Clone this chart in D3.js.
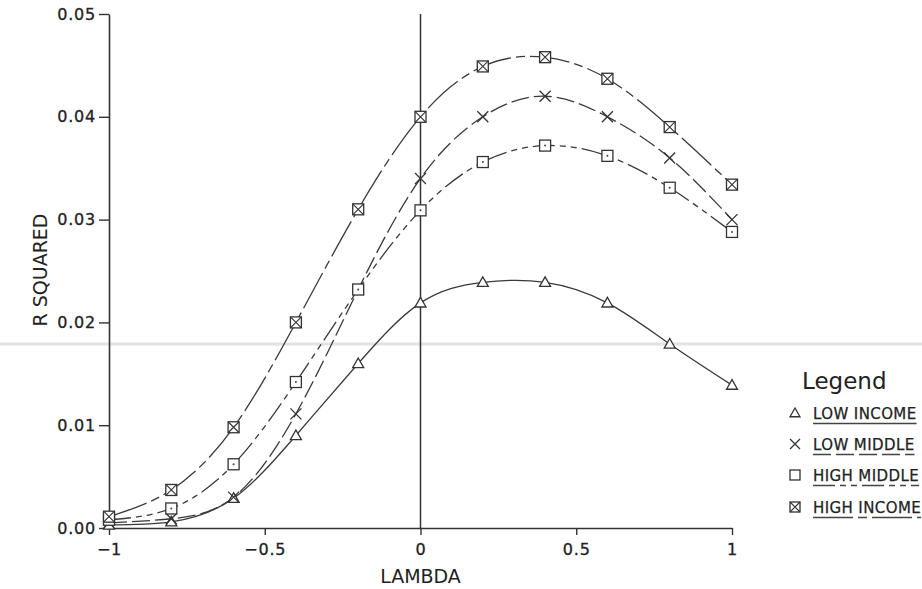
<!DOCTYPE html>
<html>
<head>
<meta charset="utf-8"/>
<script src="https://d3js.org/d3.v7.min.js"></script>
<style>
  body { margin: 0; background: #fff; }
  svg text { font-family: "DejaVu Sans", sans-serif; fill: #222; }
</style>
</head>
<body>
<script>
// lambda values on the x axis
var lambda = [-1, -0.8, -0.6, -0.4, -0.2, 0, 0.2, 0.4, 0.6, 0.8, 1];

// R squared, one array per income group
var lowIncome  = [0.0003, 0.0006, 0.0029, 0.0090, 0.0160, 0.0219, 0.0239, 0.0239, 0.0219, 0.0179, 0.0139];
var lowMiddle  = [0.0005, 0.0009, 0.0030, 0.0111, 0.0232, 0.0340, 0.0400, 0.0420, 0.0400, 0.0360, 0.0300];
var highMiddle = [0.0008, 0.0019, 0.0062, 0.0142, 0.0232, 0.0309, 0.0356, 0.0372, 0.0362, 0.0331, 0.0288];
var highIncome = [0.0011, 0.0037, 0.0098, 0.0200, 0.0310, 0.0400, 0.0449, 0.0458, 0.0437, 0.0390, 0.0334];

var seriesNames = ["LOW INCOME", "LOW MIDDLE", "HIGH MIDDLE", "HIGH INCOME"];
var yTicks = [0, 0.01, 0.02, 0.03, 0.04, 0.05];
var xTicks = [-1, -0.5, 0, 0.5, 1];

var width = 922, height = 589;

var series = [
  {name: seriesNames[0], values: lowIncome,  marker: "triangle", dash: null},
  {name: seriesNames[1], values: lowMiddle,  marker: "cross",    dash: "18,5"},
  {name: seriesNames[2], values: highMiddle, marker: "square",   dash: "22,5,6,5,6,5"},
  {name: seriesNames[3], values: highIncome, marker: "boxcross", dash: "40,5,9,5"}
];

var svg = d3.select("body").append("svg")
  .attr("width", width).attr("height", height);

var x = d3.scaleLinear().domain([-1, 1]).range([109, 732]);
var y = d3.scaleLinear().domain([0, 0.05]).range([528, 14]);

// faint scan line across the page
svg.append("line")
  .attr("x1", 0).attr("x2", width)
  .attr("y1", 344).attr("y2", 344)
  .attr("stroke", "#e2e2e2").attr("stroke-width", 3);

// y axis
var yAxis = svg.append("g")
  .attr("transform", "translate(" + x(-1) + ",0)")
  .call(d3.axisLeft(y).tickValues(yTicks).tickFormat(d3.format(".2f")).tickSize(10).tickSizeOuter(0).tickPadding(3));

// x axis
var xAxis = svg.append("g")
  .attr("transform", "translate(0," + y(0) + ")")
  .call(d3.axisBottom(x).tickValues(xTicks).tickFormat(d3.format("~g")).tickSize(7).tickSizeOuter(0).tickPadding(9));

[yAxis, xAxis].forEach(function(a) {
  a.select(".domain").attr("stroke", "#333").attr("stroke-width", 1.6);
  a.selectAll(".tick line").attr("stroke", "#333").attr("stroke-width", 1.4);
  a.selectAll(".tick text").attr("font-size", 16).attr("fill", "#222")
    .attr("letter-spacing", 0.8)
    .attr("stroke", "#222").attr("stroke-width", 0.3)
    .attr("font-family", "DejaVu Sans, sans-serif");
});

// vertical line at lambda = 0
svg.append("line")
  .attr("x1", x(0)).attr("x2", x(0))
  .attr("y1", y(0.05)).attr("y2", y(0))
  .attr("stroke", "#333").attr("stroke-width", 1.5);

// axis titles
svg.append("text")
  .attr("x", x(0)).attr("y", 583)
  .attr("text-anchor", "middle").attr("font-size", 19)
  .text("LAMBDA");

svg.append("text")
  .attr("transform", "translate(47,270) rotate(-90)")
  .attr("text-anchor", "middle").attr("font-size", 19)
  .text("R SQUARED");

// curves
var line = d3.line()
  .x(function(d, i) { return x(lambda[i]); })
  .y(function(d) { return y(d); })
  .curve(d3.curveNatural);

svg.selectAll(".curve")
  .data(series)
  .enter()
  .append("path")
  .attr("class", "curve")
  .attr("d", function(s) { return line(s.values); })
  .attr("fill", "none")
  .attr("stroke", "#3a3a3a")
  .attr("stroke-width", 1.3)
  .attr("stroke-dasharray", function(s) { return s.dash; });

// marker drawing
function drawMarker(g, type, cx, cy, r, dot) {
  var st = {stroke: "#333", "stroke-width": 1.3};
  if (type === "triangle") {
    g.append("path")
      .attr("d", "M" + cx + "," + (cy - r) + "L" + (cx + r) + "," + (cy + r * 0.75) + "L" + (cx - r) + "," + (cy + r * 0.75) + "Z")
      .attr("fill", "#fff").attr("stroke", st.stroke).attr("stroke-width", st["stroke-width"]);
  } else if (type === "cross") {
    g.append("path")
      .attr("d", "M" + (cx - r) + "," + (cy - r) + "L" + (cx + r) + "," + (cy + r) + "M" + (cx + r) + "," + (cy - r) + "L" + (cx - r) + "," + (cy + r))
      .attr("fill", "none").attr("stroke", st.stroke).attr("stroke-width", st["stroke-width"]);
  } else {
    g.append("rect")
      .attr("x", cx - r).attr("y", cy - r).attr("width", 2 * r).attr("height", 2 * r)
      .attr("fill", "#fff").attr("stroke", st.stroke).attr("stroke-width", st["stroke-width"]);
    if (type === "boxcross") {
      g.append("path")
        .attr("d", "M" + (cx - r) + "," + (cy - r) + "L" + (cx + r) + "," + (cy + r) + "M" + (cx + r) + "," + (cy - r) + "L" + (cx - r) + "," + (cy + r))
        .attr("fill", "none").attr("stroke", st.stroke).attr("stroke-width", 1.1);
    } else if (dot) {
      g.append("circle").attr("cx", cx).attr("cy", cy).attr("r", 1).attr("fill", "#444");
    }
  }
}

var markers = svg.append("g");
series.forEach(function(s) {
  s.values.forEach(function(v, i) {
    drawMarker(markers, s.marker, x(lambda[i]), y(v), 5.5, true);
  });
});

// legend
var legend = svg.append("g");
legend.append("text")
  .attr("x", 802).attr("y", 389)
  .attr("font-size", 23)
  .text("Legend");

var rowY = [419, 450, 481, 513];
series.forEach(function(s, i) {
  drawMarker(legend, s.marker, 795, rowY[i] - 6, 5, false);
  var t = legend.append("text")
    .attr("x", 813).attr("y", rowY[i])
    .attr("font-size", 15)
    .attr("letter-spacing", 0.4)
    .attr("stroke", "#222").attr("stroke-width", 0.25)
    .text(s.name);
  var w = t.node().getComputedTextLength();
  legend.append("line")
    .attr("x1", 813).attr("x2", 813 + w)
    .attr("y1", rowY[i] + 4.5).attr("y2", rowY[i] + 4.5)
    .attr("stroke", "#444").attr("stroke-width", 1.6)
    .attr("stroke-dasharray", s.dash);
});
</script>
</body>
</html>
